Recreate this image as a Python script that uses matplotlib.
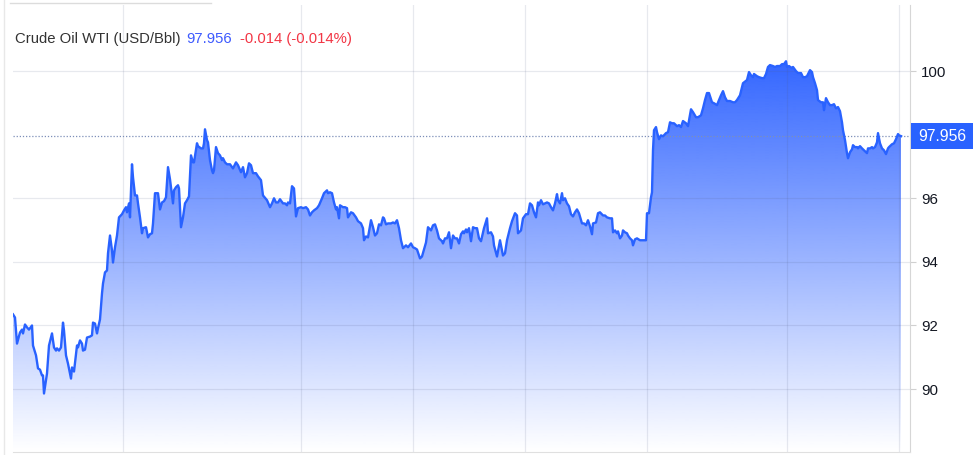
import matplotlib
matplotlib.use("Agg")
import numpy as np
import matplotlib.pyplot as plt
from matplotlib.colors import to_rgb
from matplotlib.lines import Line2D
from matplotlib.patches import Rectangle

plt.rcParams['font.family'] = ['Liberation Sans', 'DejaVu Sans']

# ── Data (time index along the session, WTI price in USD/Bbl) ────────────────
t = [0, 2, 4, 7, 9, 10, 12, 14, 16, 19,
     20, 23, 25, 27, 29, 30, 31, 34, 36, 39,
     41, 43, 44, 46, 48, 50, 51, 53, 55, 58,
     59, 61, 64, 65, 67, 69, 70, 72, 74, 77,
     79, 80, 82, 84, 85, 87, 89, 90, 92, 94,
     95, 97, 99, 100, 102, 104, 106, 109, 111, 113,
     114, 116, 117, 119, 120, 122, 124, 125, 127, 129,
     130, 133, 135, 137, 139, 140, 142, 144, 145, 147,
     149, 151, 153, 155, 157, 160, 161, 163, 165, 166,
     168, 170, 172, 174, 176, 178, 180, 181, 184, 185,
     188, 190, 191, 192, 194, 195, 197, 199, 200, 201,
     203, 205, 207, 209, 210, 212, 214, 217, 220, 223,
     225, 228, 230, 232, 234, 236, 238, 240, 243, 245,
     248, 250, 254, 257, 259, 261, 263, 265, 267, 270,
     272, 274, 275, 277, 279, 281, 283, 285, 288, 290,
     293, 295, 297, 299, 301, 304, 306, 309, 311, 314,
     315, 317, 319, 321, 323, 324, 326, 327, 330, 332,
     334, 335, 338, 340, 343, 345, 348, 350, 351, 353,
     355, 358, 360, 362, 364, 366, 368, 370, 371, 373,
     375, 378, 380, 382, 384, 386, 388, 390, 393, 395,
     398, 400, 402, 404, 407, 409, 413, 415, 418, 420,
     422, 424, 426, 429, 430, 432, 434, 436, 438, 440,
     442, 444, 446, 448, 450, 451, 453, 454, 456, 458,
     460, 462, 464, 466, 468, 470, 471, 474, 475, 478,
     480, 481, 484, 486, 487, 489, 490, 492, 494, 497,
     499, 502, 504, 505, 508, 510, 513, 515, 517, 519,
     521, 523, 525, 526, 528, 530, 532, 534, 536, 538,
     540, 542, 544, 545, 547, 549, 550, 552, 554, 556,
     558, 560, 562, 564, 566, 569, 571, 573, 575, 577,
     579, 580, 583, 585, 587, 590, 592, 594, 597, 599,
     600, 602, 604, 605, 607, 609, 610, 612, 614, 615,
     617, 619, 620, 622, 624, 627, 633, 634, 636, 638,
     639, 640, 641, 643, 644, 646, 648, 650, 653, 655,
     657, 659, 661, 664, 666, 668, 670, 673, 675, 678,
     680, 683, 685, 688, 690, 692, 694, 696, 699, 701,
     704, 706, 708, 710, 712, 714, 717, 720, 722, 724,
     727, 730, 734, 736, 738, 740, 741, 744, 746, 749,
     751, 753, 755, 757, 760, 762, 764, 767, 769, 771,
     773, 774, 776, 779, 780, 783, 785, 788, 790, 792,
     794, 797, 799, 800, 802, 804, 805, 808, 810, 811,
     813, 815, 817, 819, 821, 823, 825, 827, 829, 830,
     832, 834, 835, 837, 839, 840, 842, 844, 845, 847,
     849, 851, 854, 855, 857, 859, 860, 862, 864, 865,
     867, 869, 871, 873, 875, 876, 879, 881, 883, 885, 886, 888]

price = [92.35, 92.25, 91.43, 91.78, 91.87, 91.75, 92.03, 91.94, 91.87, 92.00,
         91.37, 91.06, 90.65, 90.61, 90.43, 90.43, 89.86, 90.49, 91.37, 91.75,
         91.31, 91.21, 91.28, 91.21, 91.31, 92.09, 91.84, 91.06, 90.80, 90.33,
         90.68, 90.55, 91.37, 91.31, 91.53, 91.43, 91.21, 91.24, 91.62, 91.65,
         91.69, 92.09, 92.06, 91.75, 91.91, 92.19, 93.01, 93.32, 93.67, 93.73,
         94.27, 94.83, 94.36, 93.98, 94.46, 94.83, 95.40, 95.50, 95.62, 95.72,
         95.56, 95.84, 95.40, 97.07, 96.66, 96.09, 96.09, 95.84, 95.40, 94.90,
         95.06, 95.09, 94.77, 94.87, 94.90, 95.21, 96.16, 96.16, 96.16, 95.65,
         95.87, 95.91, 96.03, 96.98, 96.60, 95.84, 96.25, 96.35, 96.41, 96.31,
         95.09, 95.40, 95.84, 95.94, 96.06, 97.35, 97.13, 97.13, 97.73, 97.64,
         97.57, 97.57, 97.73, 98.17, 97.83, 97.76, 97.20, 96.88, 96.79, 96.88,
         97.61, 97.42, 97.35, 97.20, 97.26, 97.13, 97.07, 97.07, 96.94, 97.13,
         97.04, 96.82, 96.98, 96.66, 96.79, 97.10, 97.04, 96.79, 96.79, 96.69,
         96.57, 96.09, 95.94, 95.72, 95.84, 96.00, 95.87, 95.87, 95.97, 95.84,
         95.84, 95.78, 95.87, 95.84, 96.38, 96.31, 95.43, 95.69, 95.72, 95.69,
         95.72, 95.65, 95.46, 95.56, 95.62, 95.69, 95.78, 96.00, 96.16, 96.25,
         96.16, 96.19, 96.16, 95.87, 95.65, 95.72, 95.37, 95.78, 95.72, 95.72,
         95.69, 95.40, 95.56, 95.53, 95.40, 95.28, 95.21, 95.06, 94.68, 94.80,
         94.77, 95.31, 95.09, 94.83, 94.90, 95.18, 95.15, 95.40, 95.37, 95.18,
         95.21, 95.21, 95.24, 95.21, 95.31, 95.06, 94.68, 94.43, 94.52, 94.46,
         94.58, 94.46, 94.43, 94.39, 94.11, 94.17, 94.61, 95.09, 94.99, 95.15,
         95.18, 94.99, 94.74, 94.65, 94.58, 94.74, 94.74, 94.93, 94.43, 94.83,
         94.74, 94.74, 94.58, 94.87, 94.96, 94.90, 95.02, 94.93, 95.06, 94.65,
         95.09, 95.06, 95.06, 94.74, 94.65, 94.93, 95.06, 95.37, 94.90, 94.93,
         94.80, 94.52, 94.17, 94.52, 94.68, 94.36, 94.20, 94.27, 94.68, 95.06,
         95.28, 95.53, 95.46, 94.90, 94.99, 95.37, 95.50, 95.50, 95.84, 95.78,
         95.56, 95.40, 95.87, 95.78, 95.94, 95.81, 95.84, 95.87, 95.84, 95.72,
         95.62, 95.84, 96.13, 95.94, 95.84, 96.16, 95.94, 96.00, 95.84, 95.75,
         95.50, 95.43, 95.56, 95.65, 95.53, 95.21, 95.21, 95.15, 95.31, 95.12,
         94.87, 95.21, 95.24, 95.53, 95.56, 95.46, 95.46, 95.40, 95.37, 95.37,
         94.93, 94.99, 94.90, 94.96, 94.74, 94.83, 94.99, 94.93, 94.90, 94.83,
         94.74, 94.68, 94.52, 94.71, 94.74, 94.68, 94.68, 95.53, 95.53, 96.03,
         96.19, 97.51, 98.14, 98.24, 98.08, 97.86, 97.98, 97.95, 98.05, 98.08,
         98.39, 98.36, 98.36, 98.27, 98.30, 98.24, 98.43, 98.36, 98.27, 98.80,
         98.71, 98.55, 98.55, 98.61, 98.83, 99.09, 99.31, 99.31, 99.02, 98.99,
         98.93, 99.09, 99.24, 99.37, 99.18, 99.06, 99.06, 99.02, 99.02, 99.09,
         99.24, 99.62, 99.72, 99.97, 99.87, 99.81, 99.91, 99.84, 99.81, 99.78,
         99.78, 99.91, 100.13, 100.19, 100.16, 100.13, 100.16, 100.16, 100.22, 100.22,
         100.31, 100.13, 100.16, 100.09, 100.13, 100.00, 99.94, 99.94, 99.81, 99.81,
         99.84, 100.03, 99.97, 99.81, 99.62, 99.40, 99.09, 99.02, 99.02, 98.77,
         99.15, 99.02, 98.93, 98.93, 98.96, 98.83, 98.87, 98.74, 98.39, 98.14,
         97.83, 97.42, 97.26, 97.45, 97.54, 97.67, 97.61, 97.61, 97.57, 97.64,
         97.57, 97.51, 97.42, 97.57, 97.57, 97.61, 97.57, 97.61, 97.76, 98.05,
         97.73, 97.57, 97.51, 97.39, 97.57, 97.61, 97.70, 97.73, 97.86, 98.02, 97.98, 97.956]

y_ticks = [90, 92, 94, 96, 100]
x_grid = [110, 288, 400, 512, 634, 774, 886]
last = 97.956
change = "-0.014 (-0.014%)"

# ── Palette ──────────────────────────────────────────────────────────────────
C_LINE = "#2962ff"
C_FILL = "#3366ff"
C_TEXT = "#131722"
C_RED = "#f23645"
C_BORDER = "#dcdcdc"

W, H = 974, 455
fig = plt.figure(figsize=(W / 100, H / 100), dpi=100)
ax = fig.add_axes([13 / W, 3 / H, 897 / W, 447 / H])
Y0, Y1 = 88.02, 102.08

# gradient fill under the line, clipped to the area polygon
poly = ax.fill_between(t, price, Y0, facecolor="none", edgecolor="none")
grad = np.zeros((256, 1, 4))
grad[:, 0, :3] = to_rgb(C_FILL)
grad[:, 0, 3] = np.linspace(0.0, 1.0, 256)
im = ax.imshow(grad, extent=[t[0], t[-1], Y0, 100.35], aspect="auto",
               origin="lower", interpolation="bilinear", zorder=1)
im.set_clip_path(poly.get_paths()[0], transform=ax.transData)

ax.plot(t, price, color=C_LINE, lw=1.7, zorder=3, solid_joinstyle="round")
ax.axhline(last, color="#7d8fb8", lw=0.9, ls=(0, (1, 1.5)), zorder=2)

ax.set_xlim(0, 897)
ax.set_ylim(Y0, Y1)

# axes styling
ax.set_xticks(x_grid)
ax.set_xticklabels([])
ax.set_yticks(y_ticks)
ax.yaxis.tick_right()
ax.tick_params(axis="x", length=0)
ax.tick_params(axis="y", length=4, width=0.8, color="#d0d0d0",
               labelsize=10.8, labelcolor=C_TEXT, pad=4)
ax.grid(True, color=(0.30, 0.35, 0.50), alpha=0.13, lw=0.9)
for s in ("top", "left"):
    ax.spines[s].set_visible(False)
ax.spines["right"].set_color("#d6d6d6")
ax.spines["bottom"].set_color("#e0e0e0")

# last price tag on the axis
ytr = ax.get_yaxis_transform()
ax.add_patch(Rectangle((1.001, last - 0.41), 0.069, 0.82, transform=ytr,
                       facecolor=C_LINE, edgecolor="none", clip_on=False, zorder=5))
ax.text(1.001 + 0.0345, last, f"{last:.3f}", transform=ytr, ha="center",
        va="center", color="white", fontsize=11.3, zorder=6, clip_on=False)

# header
fig.text(15 / W, 1 - 39 / H, "Crude Oil WTI (USD/Bbl)", fontsize=10.7,
         color="#333333", va="center", ha="left")
fig.text(186 / W, 1 - 39 / H, f"{last:.3f}", fontsize=10.7,
         color="#3d5afe", va="center", ha="left")
fig.text(240 / W, 1 - 39 / H, change, fontsize=10.7,
         color=C_RED, va="center", ha="left")

# frame bits around the widget
fig.add_artist(Line2D([4 / W, 4 / W], [0, 1], transform=fig.transFigure,
                      color="#e8e8e8", lw=1))
fig.add_artist(Line2D([10 / W, 211 / W], [1 - 3 / H, 1 - 3 / H],
                      transform=fig.transFigure, color=C_BORDER, lw=1))

fig.savefig("out.png", dpi=100, facecolor="white")
